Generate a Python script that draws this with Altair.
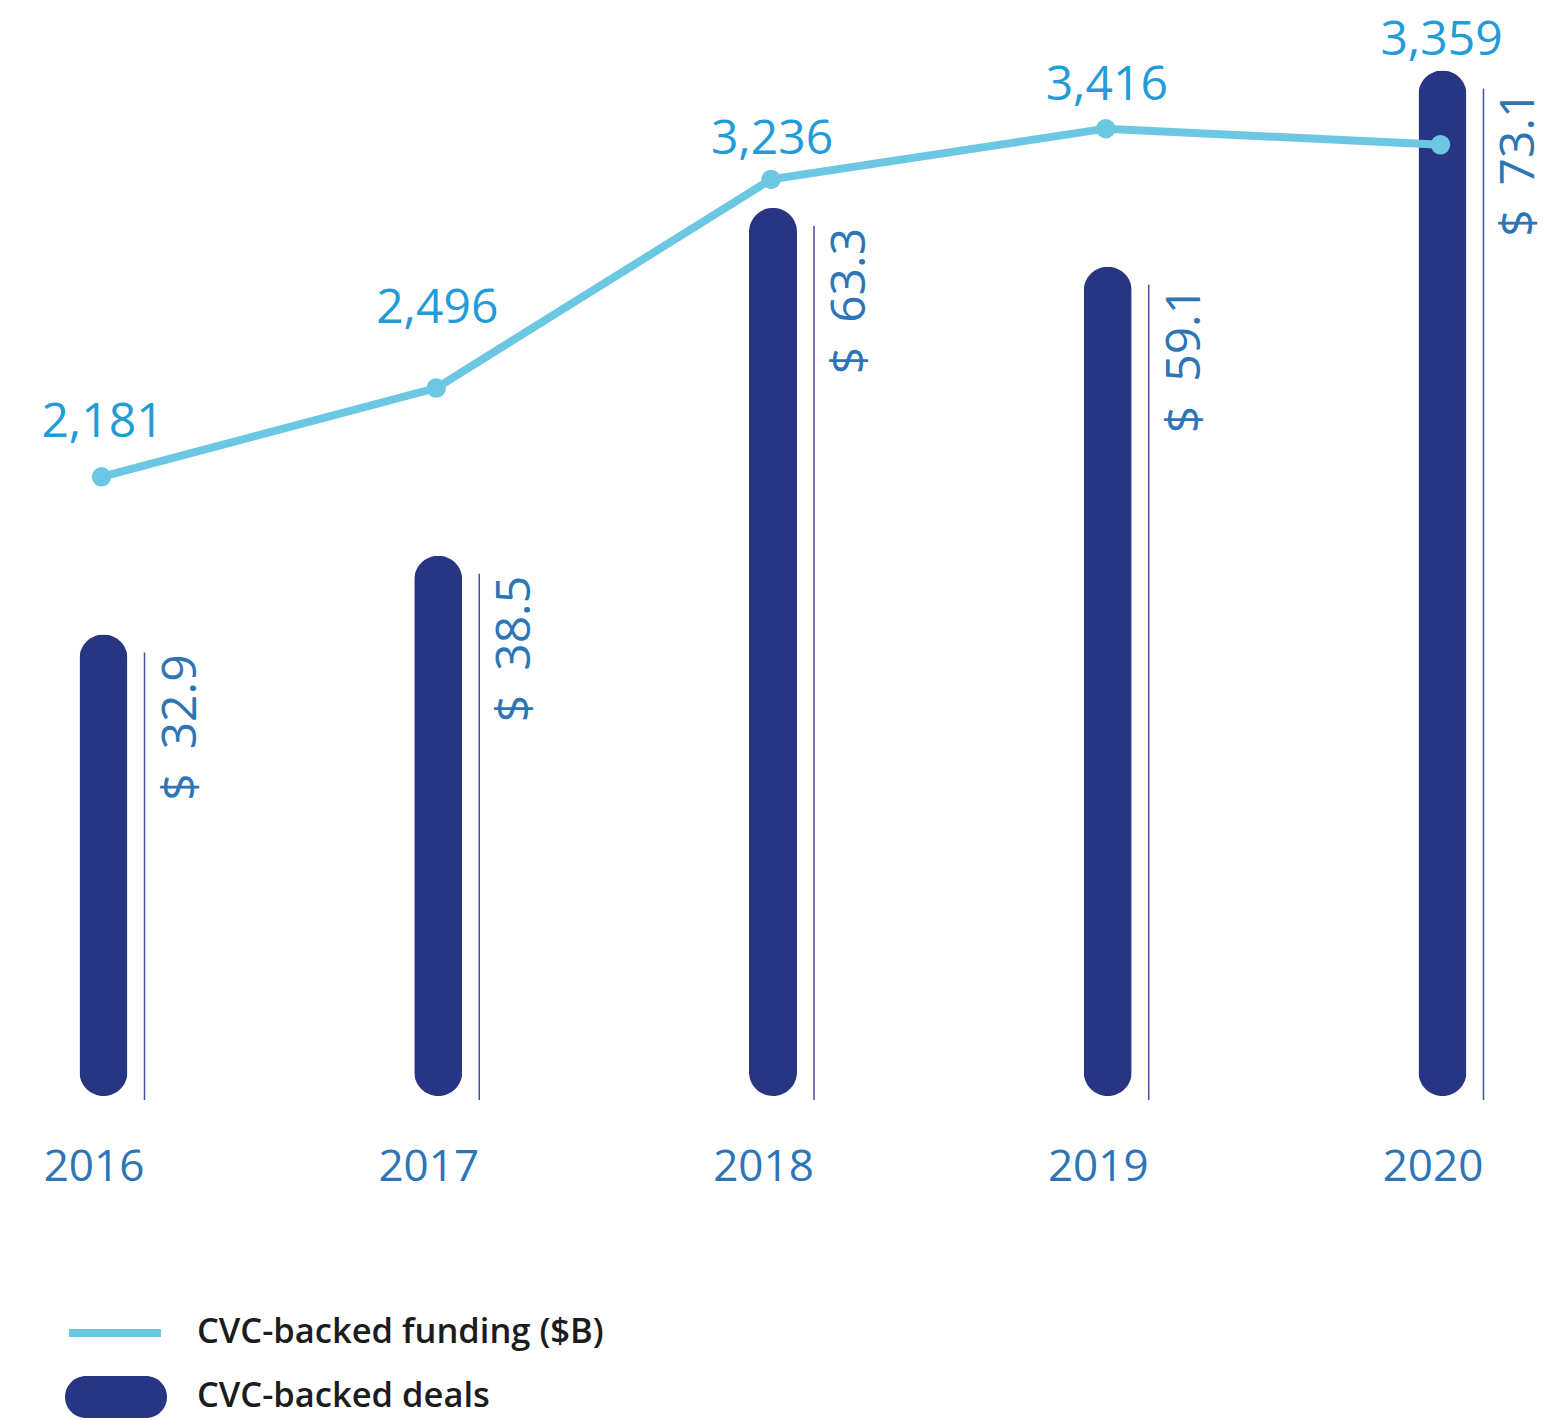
import altair as alt
import pandas as pd

# ---- data ----
years = [2016, 2017, 2018, 2019, 2020]
funding = [32.9, 38.5, 63.3, 59.1, 73.1]      # drawn as rounded bars
deals = [2181, 2496, 3236, 3416, 3359]        # drawn as line with points
line_legend_name = "CVC-backed funding ($B)"
bar_legend_name = "CVC-backed deals"

df = pd.DataFrame({"year": years, "funding": funding, "deals": deals})
df["funding_label"] = ["$\u2002" + f"{v:.1f}" for v in funding]
df["deals_label"] = [f"{v:,}" for v in deals]
df["line_series"] = line_legend_name
df["bar_series"] = bar_legend_name

# ---- styles ----
NAVY = "#283583"
RULE = "#4351a0"
LIGHT = "#6cc7e3"
LABEL_BLUE = "#2e75b6"
NUM_BLUE = "#239bd7"
FONT = "Open Sans"

x = alt.X(
    "year:Q",
    scale=alt.Scale(domain=[2015.7147, 2020.3212], nice=False, zero=False, padding=0),
    axis=alt.Axis(
        values=years, format="d", title=None, grid=False, domain=False,
        ticks=False, tickSize=0, labelPadding=49, labelOffset=-10,
        labelFont=FONT, labelFontSize=44, labelColor=LABEL_BLUE,
        labelFlush=False, labelOverlap=False,
    ),
)
ybar = alt.Y("funding:Q", scale=alt.Scale(domain=[0, 77.55], nice=False), axis=None)
yline = alt.Y("deals:Q", scale=alt.Scale(domain=[-15, 3844], nice=False, zero=False), axis=None)

base = alt.Chart(df)

pill = ("M-0.588,-0.412 L0.588,-0.412 A0.412,0.412 0 0 1 0.588,0.412 "
        "L-0.588,0.412 A0.412,0.412 0 0 1 -0.588,-0.412 Z")

bars = base.mark_bar(size=48, cornerRadius=24).encode(
    x=x,
    y=ybar,
    fill=alt.Fill(
        "bar_series:N",
        scale=alt.Scale(domain=[bar_legend_name], range=[NAVY]),
        legend=alt.Legend(
            title=None, orient="none", legendX=57, legendY=1338,
            symbolType=pill, symbolSize=10404, symbolStrokeWidth=0,
            labelFont=FONT, labelFontSize=34.5, labelFontWeight=600,
            labelColor="#1c1c1c", labelOffset=30, labelLimit=800, padding=0,
        ),
    ),
)

rules = base.mark_rule(xOffset=41, yOffset=18, y2Offset=4, color=RULE, strokeWidth=1.5).encode(
    x=x, y=ybar, y2=alt.datum(0)
)

bar_labels = base.mark_text(
    angle=270, align="right", baseline="alphabetic", dx=-20, dy=92,
    font=FONT, fontSize=48, color=LABEL_BLUE,
).encode(x=x, y=ybar, text="funding_label:N")

line = base.mark_line(strokeWidth=8, xOffset=-2).encode(
    x=x,
    y=yline,
    stroke=alt.Stroke(
        "line_series:N",
        scale=alt.Scale(domain=[line_legend_name], range=[LIGHT]),
        legend=alt.Legend(
            title=None, orient="none", legendX=57, legendY=1275,
            symbolType="stroke", symbolSize=8464, symbolStrokeWidth=8,
            labelFont=FONT, labelFontSize=34.5, labelFontWeight=600,
            labelColor="#1c1c1c", labelOffset=32, labelLimit=800, padding=0,
        ),
    ),
)

points = base.mark_circle(size=380, opacity=1, color=LIGHT, xOffset=-2).encode(x=x, y=yline)

label_dy = {2016: -40, 2017: -65, 2018: -25, 2019: -29, 2020: -90}
num_labels = [
    base.transform_filter(alt.datum.year == yr).mark_text(
        align="center", baseline="alphabetic", dy=d, xOffset=-1,
        font=FONT, fontSize=48, color=NUM_BLUE,
    ).encode(x=x, y=yline, text="deals_label:N")
    for yr, d in label_dy.items()
]

chart = (
    alt.layer(bars, rules, bar_labels, line, points, *num_labels)
    .resolve_scale(y="independent")
    .properties(width=1542, height=1088, padding=0)
    .configure_view(stroke=None)
)

chart.save("out.html", embed_options={"renderer": "svg", "actions": False})
